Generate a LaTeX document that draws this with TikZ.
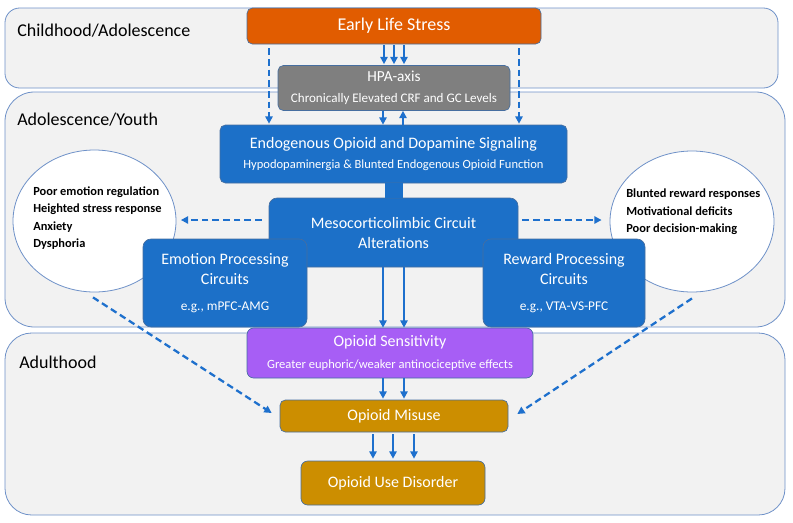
\documentclass[tikz,border=0pt]{standalone}
\usepackage{fontspec}
\setmainfont{Carlito}
\usetikzlibrary{shapes.geometric,arrows.meta,calc}
\definecolor{panelfill}{RGB}{242,242,242}
\definecolor{paneledge}{RGB}{110,145,200}
\definecolor{boxedge}{RGB}{70,110,160}
\definecolor{stressor}{RGB}{225,92,0}
\definecolor{hpagray}{RGB}{127,127,127}
\definecolor{circblue}{RGB}{28,112,200}
\definecolor{sensviolet}{RGB}{167,94,245}
\definecolor{misusegold}{RGB}{204,142,0}
\definecolor{arrowblue}{RGB}{30,112,205}
\newcommand{\subtxt}[1]{{\fontsize{9.4}{11}\selectfont #1}}

\begin{document}
\begin{tikzpicture}[x=0.75pt,y=-0.75pt,
    panel/.style={draw=paneledge,fill=panelfill,line width=0.6pt},
    stage/.style={anchor=west,inner sep=0pt,font=\fontsize{13.5}{16}\selectfont},
    block/.style={draw=boxedge,line width=0.5pt,rounded corners=4pt,text=white,align=center,inner sep=0pt,font=\fontsize{12}{15}\selectfont},
    effect/.style={ellipse,draw=paneledge,fill=white,line width=0.6pt,inner sep=0pt},
    effecttext/.style={anchor=west,align=left,inner sep=0pt,font=\bfseries\fontsize{9.3}{13}\selectfont},
    arr/.style={arrowblue,line width=1.3pt,-{Triangle[length=5.5pt,width=5.5pt]}},
    dasharr/.style={arrowblue,line width=1.7pt,dash pattern=on 5pt off 3pt,-{Triangle[length=5.5pt,width=5.5pt]}}]
            \useasboundingbox (0,0) rectangle (793,522);
            \draw[panel,rounded corners=11pt] (5,8) rectangle (778,88);
            \draw[panel,rounded corners=22pt] (5,92) rectangle (785,327);
            \draw[panel,rounded corners=20pt] (5,333) rectangle (785,515);
            \node[stage] (kid) at (17,31) {Childhood/Adolescence};
            \node[stage] (youth) at (17,120) {Adolescence/Youth};
            \node[stage] (adult) at (19,362) {Adulthood};

            \node[effect,minimum width=122.25pt,minimum height=106.5pt] (lcirc) at (94.5,221) {};
            \node[effect,minimum width=123pt,minimum height=105.75pt] (rcirc) at (692,221.5) {};
            \node[effecttext] (ltxt) at (33,218) {Poor emotion regulation\\Heighted stress response\\Anxiety\\Dysphoria};
            \node[effecttext] (rtxt) at (626,212) {Blunted reward responses\\Motivational deficits\\Poor decision-making};

            \node[block,fill=stressor,minimum width=220.5pt,minimum height=27pt,font=\fontsize{13.5}{16}\selectfont] (els) at (394,26) {Early Life Stress};
            \node[block,fill=hpagray,minimum width=174pt,minimum height=33.75pt] (hpa) at (394,88) {{\fontsize{11.5}{13}\selectfont HPA-axis}\\[1pt]{\fontsize{9.8}{11}\selectfont Chronically Elevated CRF and GC Levels}};
            \node[block,fill=circblue,minimum width=260.25pt,minimum height=43.5pt] (endo) at (393.5,154) {Endogenous Opioid and Dopamine Signaling\\\subtxt{Hypodopaminergia \& Blunted Endogenous Opioid Function}};
            \node[block,fill=circblue,rounded corners=6pt,minimum width=186.75pt,minimum height=51.75pt] (meso) at (393.5,232.5) {Mesocorticolimbic Circuit\\Alterations};
            \node[block,fill=circblue,rounded corners=6pt,minimum width=123pt,minimum height=66pt] (emo) at (225,283) {Emotion Processing\\Circuits\\[4pt]{\fontsize{10}{12}\selectfont e.g., mPFC-AMG}};
            \node[block,fill=circblue,rounded corners=6pt,minimum width=121.5pt,minimum height=66pt] (rew) at (564,283) {Reward Processing\\Circuits\\[4pt]{\fontsize{10}{12}\selectfont e.g., VTA-VS-PFC}};
            \node[block,fill=sensviolet,rounded corners=5pt,minimum width=214.5pt,minimum height=37.5pt] (sens) at (390,353) {Opioid Sensitivity\\[1pt]\subtxt{Greater euphoric/weaker antinociceptive effects}};
            \node[block,fill=misusegold,minimum width=171pt,minimum height=24pt] (misuse) at (394,416) {Opioid Misuse};
            \node[block,fill=misusegold,rounded corners=5pt,minimum width=138pt,minimum height=33pt] (oud) at (393,483) {Opioid Use Disorder};

            \draw[circblue,line width=13.5pt] (endo.south) -- (meso.north);
            \foreach \dx in {-10,0,10}
                \draw[arr] ($(els.south)+(\dx,1)$) -- ($(hpa.north)+(\dx,-1)$);
            \draw[dasharr] ($(els.south)+(-125,4)$) -- ($(endo.north)+(-124.5,-1)$);
            \draw[dasharr] ($(els.south)+(125,4)$) -- ($(endo.north)+(125.5,-1)$);
            \draw[arr] ($(hpa.south)+(-11,0)$) -- ($(endo.north)+(-10.5,0)$);
            \draw[arr] ($(endo.north)+(9.5,0)$) -- ($(hpa.south)+(9,0)$);
            \draw[dasharr] ($(meso.west)+(-7,-12.5)$) -- ($(lcirc.east)+(4.5,-1)$);
            \draw[dasharr] ($(meso.east)+(4,-12.5)$) -- ($(rcirc.west)+(-8,-1.5)$);
            \draw[arr] ($(meso.south)+(-10.5,0)$) -- ($(sens.north)+(-7,0)$);
            \draw[arr] ($(meso.south)+(10.5,0)$) -- ($(sens.north)+(14,0)$);
            \draw[arr] ($(sens.south)+(-7,0)$) -- ($(misuse.north)+(-11,-1)$);
            \draw[arr] ($(sens.south)+(14,0)$) -- ($(misuse.north)+(10,-1)$);
            \foreach \dx/\ex in {-21/-20,-1/0,20/21}
                \draw[arr] ($(misuse.south)+(\dx,2)$) -- ($(oud.north)+(\ex,-2)$);
            \draw[dasharr] ($(lcirc.south)+(-1.5,5)$) -- ($(misuse.west)+(-8,-3)$);
            \draw[dasharr] ($(rcirc.south)+(0,6)$) -- ($(misuse.east)+(9,-2)$);
\end{tikzpicture}
\end{document}
